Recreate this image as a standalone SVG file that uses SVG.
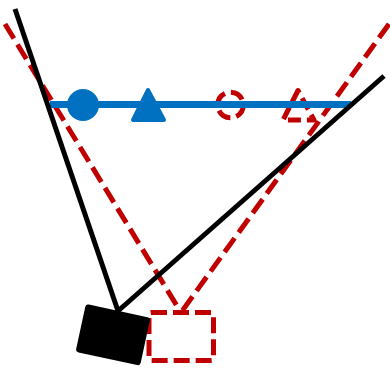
<svg xmlns="http://www.w3.org/2000/svg" width="390" height="368" viewBox="0 0 390 368">
  <style>
    .red { fill: none; stroke: #C00000; stroke-width: 5; stroke-dasharray: 17 7; stroke-linejoin: round; }
    .black { fill: none; stroke: #000000; stroke-width: 5; }
    .blue { fill: #0070C0; stroke: #0070C0; }
  </style>
  <rect width="390" height="368" fill="#ffffff"/>
  <g id="connectors">
    <line class="red" x1="5" y1="24" x2="181" y2="312.5"/>
    <line class="red" x1="389" y1="24" x2="181" y2="312.5"/>
  </g>
  <g id="camera-dashed">
    <rect class="red" x="149" y="312.5" width="64.5" height="48" rx="2" style="stroke-dasharray:16 6"/>
  </g>
  <g id="circle-dashed">
    <circle class="red" cx="230.5" cy="105" r="12.8" style="stroke-dasharray:14 6.1"/>
  </g>
  <g id="triangle-dashed">
    <polygon class="red" points="298,90.5 283,120 314,120" style="stroke-dasharray:13 6"/>
  </g>
  <g id="blue-line">
    <line x1="50" y1="104.5" x2="351" y2="104.5" stroke="#0070C0" stroke-width="7"/>
  </g>
  <g id="circle-blue">
    <circle class="blue" cx="83" cy="105" r="16" stroke-width="0"/>
  </g>
  <g id="triangle-blue">
    <polygon class="blue" points="148,90 133,120 164,120" stroke-width="4" stroke-linejoin="round"/>
  </g>
  <g id="rays-black">
    <line class="black" x1="15" y1="9" x2="118" y2="311"/>
    <line class="black" x1="384" y1="76" x2="118" y2="311"/>
  </g>
  <g id="camera-black">
    <rect x="-33" y="-24.5" width="66" height="49" rx="3" fill="#000000" transform="translate(113 334.8) rotate(12.2)"/>
  </g>
</svg>
